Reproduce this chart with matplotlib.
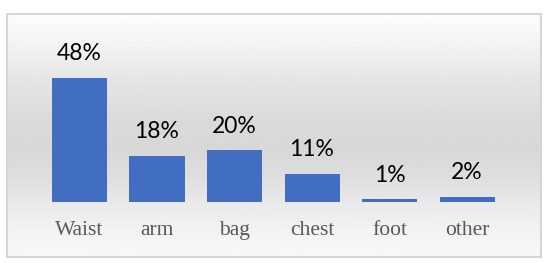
import numpy as np
import matplotlib.pyplot as plt
from matplotlib.patches import Rectangle

categories = ["Waist", "arm", "bag", "chest", "foot", "other"]
shares = [48, 18, 20, 11, 1, 2]
share_labels = ["48%", "18%", "20%", "11%", "1%", "2%"]

fig = plt.figure(figsize=(5.5, 2.63), dpi=100)

# background panel: gray gradient inside a light border
bg = fig.add_axes([0, 0, 1, 1], zorder=0)
bg.set_xlim(0, 550)
bg.set_ylim(263, 0)
bg.axis("off")
stops_y = [14, 40, 80, 120, 150, 180, 210, 240, 257]
stops_v = [0.99, 0.96, 0.90, 0.855, 0.845, 0.875, 0.925, 0.96, 0.97]
rows = np.interp(np.arange(14, 258), stops_y, stops_v)
grad = np.repeat(rows[:, None], 2, axis=1)
bg.imshow(grad, cmap="gray", vmin=0, vmax=1, extent=[7, 541, 257, 14], aspect="auto")
bg.add_patch(Rectangle((7, 14), 534, 243, fill=False, edgecolor="#d6d6d6", linewidth=1.5))

ax = fig.add_axes([0.0741, 0.232, 0.8455, 0.5885], zorder=1)
ax.patch.set_alpha(0)
x = np.arange(len(categories))
bars = ax.bar(x, shares, width=0.71, color="#416ec0")

for bar, label in zip(bars, share_labels):
    ax.annotate(label, (bar.get_x() + bar.get_width() / 2, bar.get_height()),
                xytext=(0, 10), textcoords="offset points", ha="center", va="bottom",
                fontsize=16.5, family="Lato", color="black")

ax.set_xlim(-0.5, 5.5)
ax.set_ylim(0, 60)
ax.set_xticks(x)
ax.set_xticklabels(categories, family="Liberation Serif", fontsize=15.5, color="#595959")
ax.tick_params(axis="x", length=0, pad=13.5)
ax.set_yticks([])
for side in ["top", "right", "bottom", "left"]:
    ax.spines[side].set_visible(False)

fig.savefig("out.png", dpi=100)
